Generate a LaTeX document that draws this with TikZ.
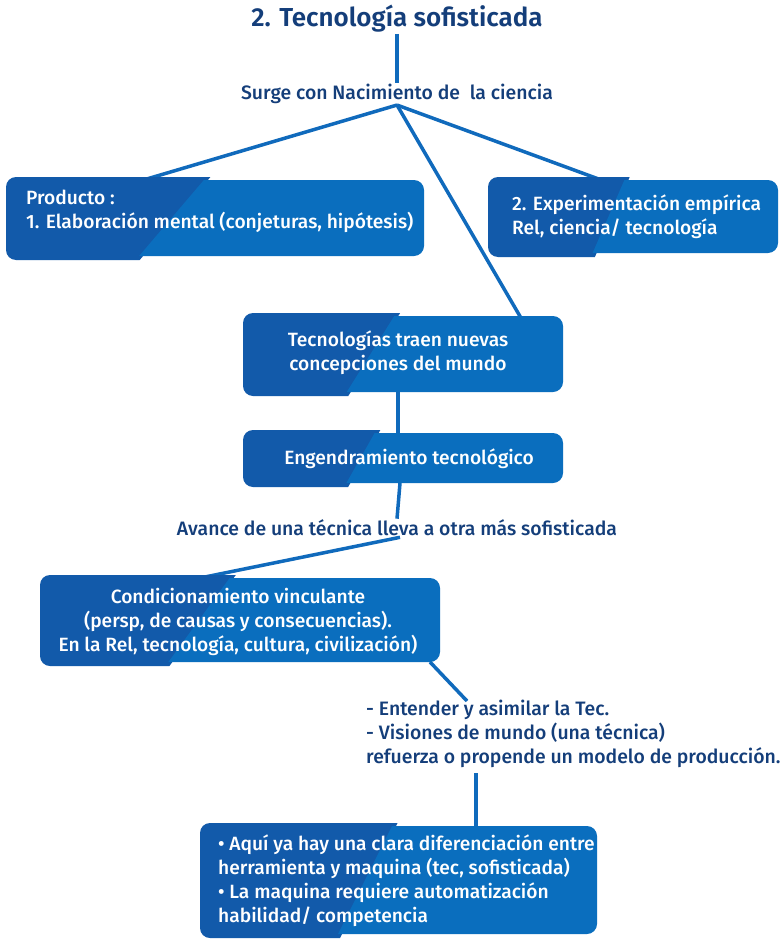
\documentclass[tikz,border=0pt]{standalone}
\usepackage{fontspec}
\setmainfont{Fira Sans}[UprightFont=* Medium, BoldFont=* SemiBold]
\usetikzlibrary{calc}
\definecolor{boxdark}{RGB}{18,90,170}
\definecolor{boxlight}{RGB}{10,110,190}
\definecolor{linecol}{RGB}{16,106,188}
\definecolor{navy}{RGB}{20,62,122}
\newcommand\ttbox[6]{%
  \begin{scope}
    \clip (#1-2,#2-6) -- (#5+4,#2-6) -- (#6+4,#4+6) -- (#1-2,#4+6) -- cycle;
    \fill[boxdark, rounded corners=10pt] (#1,#2-3) rectangle (#3,#4+4);
  \end{scope}
  \begin{scope}
    \clip (#5,#2-6) -- (#3+2,#2-6) -- (#3+2,#4+6) -- (#6,#4+6) -- cycle;
    \fill[boxlight, rounded corners=10pt] (#1,#2) rectangle (#3,#4);
  \end{scope}
}
\begin{document}
\begin{tikzpicture}[x=1pt,y=-1pt,
  conn/.style={draw=linecol, line width=3.5pt},
  navylabel/.style={text=navy, inner sep=1pt, font=\fontsize{19.4}{24}\selectfont},
  boxtxt/.style={text=white, inner sep=0pt, font=\fontsize{19.2}{24}\selectfont}]
\useasboundingbox (0,0) rectangle (780,939);
\fill[white] (0,0) rectangle (780,939);

% labels
\node[navylabel, font=\fontsize{26}{30}\selectfont\bfseries] (title) at (397,19) {2. Tecnología sofisticada};
\node[navylabel] (surge) at (397,94) {Surge con Nacimiento de\ \ la ciencia};
\node[navylabel] (avance) at (397,528) {Avance de una técnica lleva a otra más sofisticada};
\node[navylabel, anchor=north west, align=left] (ent) at (365,699) {- Entender y asimilar la Tec.\\- Visiones de mundo (una técnica)\\refuerza o propende un modelo de producción.};

% box attachment points
\coordinate (blT) at (140,181);
\coordinate (brT) at (604,181);
\coordinate (m1T) at (521,318);
\coordinate (m1B) at (398,392);
\coordinate (m2T) at (398,434);
\coordinate (m2B) at (400,483);
\coordinate (c3T) at (195,579);
\coordinate (c3B) at (430,662);
\coordinate (entT) at (467,701);
\coordinate (entB) at (476,773);
\coordinate (b4T) at (476,827);

% connectors
\draw[conn] (title.south) -- (surge.north);
\draw[conn] (surge.south) -- (blT);
\draw[conn] (surge.south) -- (brT);
\draw[conn] (surge.south) -- (m1T);
\draw[conn] (m1B) -- (m2T);
\draw[conn] (m2B) -- (avance.north);
\draw[conn] ($(avance.south)+(3,0)$) -- (c3T);
\draw[conn] (c3B) -- (entT);
\draw[conn] (entB) -- (b4T);

% boxes
\ttbox{6}{180}{424}{256}{209}{134}
\ttbox{488}{180}{778}{253}{627}{590}
\ttbox{243}{316}{563}{392}{398}{343}
\ttbox{243}{433}{563}{483}{378}{343}
\ttbox{40}{578}{440}{662}{234}{164}
\ttbox{200}{826}{597}{934}{395}{335}

\node[boxtxt, anchor=west, align=left] (bl) at (26,211) {Producto :\\1. Elaboración mental (conjeturas, hipótesis)};
\node[boxtxt, anchor=west, align=left] (br) at (512,217) {2. Experimentación empírica\\Rel, ciencia/ tecnología};
\node[boxtxt, align=center] (m1) at (398,353) {Tecnologías traen nuevas\\concepciones del mundo};
\node[boxtxt] (m2) at (409,459) {Engendramiento tecnológico};
\node[boxtxt, align=center] (c3) at (238,622) {Condicionamiento vinculante\\(persp, de causas y consecuencias).\\En la Rel, tecnología, cultura, civilización)};
\node[boxtxt, anchor=west, align=left] (b4) at (218,881) {• Aquí ya hay una clara diferenciación entre\\herramienta y maquina (tec, sofisticada)\\• La maquina requiere automatización\\habilidad/ competencia};
\end{tikzpicture}
\end{document}
